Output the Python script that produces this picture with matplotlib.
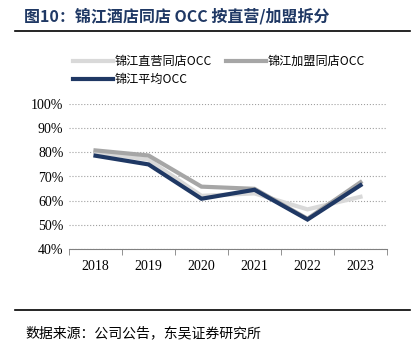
import numpy as np
import matplotlib
matplotlib.use('Agg')
import matplotlib.pyplot as plt
from matplotlib.lines import Line2D

plt.rcParams['font.family'] = ['Liberation Serif', 'Noto Sans CJK SC']

years = ['2018', '2019', '2020', '2021', '2022', '2023']
occ_direct = [80.0, 77.0, 62.0, 63.0, 56.4, 61.6]
occ_franchise = [80.8, 78.7, 65.8, 64.9, 52.5, 67.6]
occ_avg = [78.6, 75.0, 60.8, 64.5, 52.2, 66.4]
yticks = [40, 50, 60, 70, 80, 90, 100]

c_direct = '#D9D9D9'
c_fran = '#A6A6A6'
c_avg = '#1F3864'

fig = plt.figure(figsize=(4.18, 3.5), dpi=100)
W, H = 418, 350
ax = fig.add_axes([69/W, 1-249/H, (387-69)/W, (249-104)/H])

x = np.arange(len(years))
ax.plot(x, occ_direct, color=c_direct, lw=3, solid_joinstyle='miter', zorder=2)
ax.plot(x, occ_franchise, color=c_fran, lw=3, solid_joinstyle='miter', zorder=3)
ax.plot(x, occ_avg, color=c_avg, lw=3, solid_joinstyle='miter', zorder=4)

ax.set_xlim(-0.5, len(years) - 0.5)
ax.set_ylim(40, 100)
ax.set_yticks(yticks)
ax.set_yticklabels([f'{v}%' for v in yticks], fontsize=10)
ax.set_xticks(x)
ax.set_xticklabels(years, fontsize=10)
ax.set_xticks(np.arange(len(years) + 1) - 0.5, minor=True)
ax.tick_params(axis='x', which='major', length=0, pad=8)
ax.tick_params(axis='x', which='minor', length=4, color='#808080')
ax.tick_params(axis='y', length=0, pad=4)
ax.grid(axis='y', color='#A0A0A0', ls=':', lw=0.8)
for s in ['top', 'right', 'left']:
    ax.spines[s].set_visible(False)
ax.spines['bottom'].set_color('#808080')
ax.set_axisbelow(True)

# legend (column-major: direct, avg | franchise)
h1 = Line2D([], [], color=c_direct, lw=3)
h2 = Line2D([], [], color=c_fran, lw=3)
h3 = Line2D([], [], color=c_avg, lw=3)
fig.legend([h1, h3, h2], ['锦江直营同店OCC', '锦江平均OCC', '锦江加盟同店OCC'],
           ncol=2, loc='upper left', bbox_to_anchor=(62/W, 1-44/H), frameon=False,
           handlelength=3.3, handletextpad=0.15, columnspacing=1.2,
           labelspacing=0.45, prop={'family': ['Noto Sans CJK SC'], 'size': 8.7})

# title, rules, source
fig.text(24/W, 1-16/H, '图10：锦江酒店同店 OCC 按直营/加盟拆分', fontsize=11.5,
         fontweight='bold', color='#1F3864', va='center', ha='left',
         family=['Noto Sans CJK SC'])
fig.add_artist(Line2D([15/W, 410/W], [1-31/H, 1-31/H], color='black', lw=1.2))
fig.add_artist(Line2D([15/W, 410/W], [1-310/H, 1-310/H], color='black', lw=1.2))
fig.text(25/W, 1-333/H, '数据来源：公司公告，东吴证券研究所', fontsize=10,
         va='center', ha='left', family=['Noto Sans CJK SC'])

fig.savefig('out.png', dpi=100)
